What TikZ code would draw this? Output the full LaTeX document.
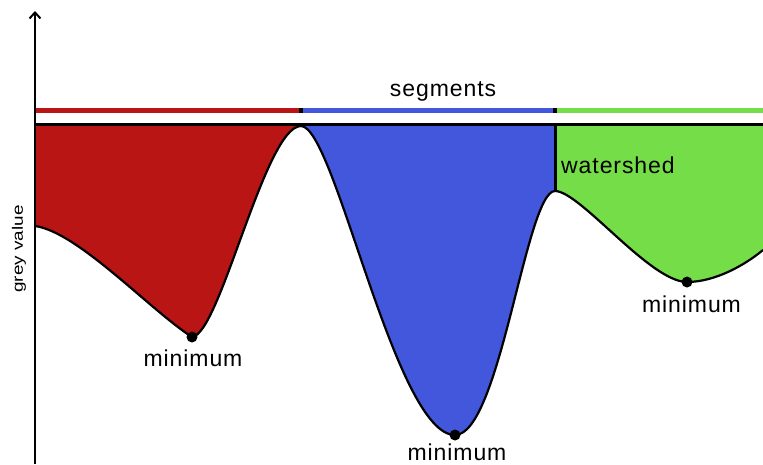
\documentclass[tikz,border=0pt]{standalone}
\usepackage{fontspec}
\setmainfont{Liberation Sans}
\newfontfamily\lblfont[LetterSpace=4]{Liberation Sans}
\usetikzlibrary{arrows.meta}
\definecolor{segred}{RGB}{185,21,21}
\definecolor{segblue}{RGB}{66,87,220}
\definecolor{seggreen}{RGB}{116,221,72}
\tikzset{
  lbl/.style={inner sep=0pt, font=\lblfont\fontsize{23}{26}\selectfont},
  bar/.style={line width=5pt},
  curveline/.style={line width=2.2pt, black},
  mindot/.style={fill=black},
}
\begin{document}
\begin{tikzpicture}[x=1pt,y=-1pt]
\useasboundingbox (0,0) rectangle (763,464);
% fills
\fill[segred] (35,124.5) -- (35,226) .. controls (78,232) and (150,310) .. (192,337)
  .. controls (220,335) and (265,126) .. (301,126) -- (301,124.5) -- cycle;
\fill[segblue] (301,124.5) -- (301,126) .. controls (335,126) and (395,435) .. (455,435)
  .. controls (500,435) and (526,191) .. (555,191) -- (555,124.5) -- cycle;
\fill[seggreen] (555,124.5) -- (555,191) .. controls (580,191) and (650,282) .. (687,282)
  .. controls (715,282) and (745,265) .. (763,250) -- (763,124.5) -- cycle;
% curve
\draw[curveline] (35,226) .. controls (78,232) and (150,310) .. (192,337)
  .. controls (220,335) and (265,126) .. (301,126)
  .. controls (335,126) and (395,435) .. (455,435)
  .. controls (500,435) and (526,191) .. (555,191)
  .. controls (580,191) and (650,282) .. (687,282)
  .. controls (715,282) and (745,265) .. (763,250);
% segment bars
\draw[bar,segred] (35,110.8) -- (299,110.8);
\draw[bar,black] (299,110.8) -- (303,110.8);
\draw[bar,segblue] (303,110.8) -- (553,110.8);
\draw[bar,black] (553,110.8) -- (557,110.8);
\draw[bar,seggreen] (557,110.8) -- (763,110.8);
% top line and watershed
\draw[line width=2.3pt] (35,124.5) -- (763,124.5);
\draw[line width=3pt] (555,124.5) -- (555,191);
% axis
\coordinate (axbot) at (35,464);
\coordinate (axtop) at (35,11);
\draw[line width=2pt, -{Straight Barb[length=6pt,width=11pt]}] (axbot) -- (axtop);
% minima
\fill[mindot] (192,337) circle (5.5);
\fill[mindot] (455,435) circle (5.5);
\fill[mindot] (687,282) circle (5.5);
% labels
\node[lbl, anchor=base] (segs) at (443,96) {segments};
\node[lbl, anchor=base west] (ws) at (561,173) {watershed};
\node[lbl, anchor=base] (min1) at (193,366.5) {minimum};
\node[lbl, anchor=base] (min2) at (457,460.5) {minimum};
\node[lbl, anchor=base] (min3) at (691.5,312.5) {minimum};
\node[inner sep=0pt, rotate=90, anchor=center] (gv) at (19,249)
  {\scalebox{1.26}[1]{\fontsize{15}{17}\selectfont grey value}};
\end{tikzpicture}
\end{document}
